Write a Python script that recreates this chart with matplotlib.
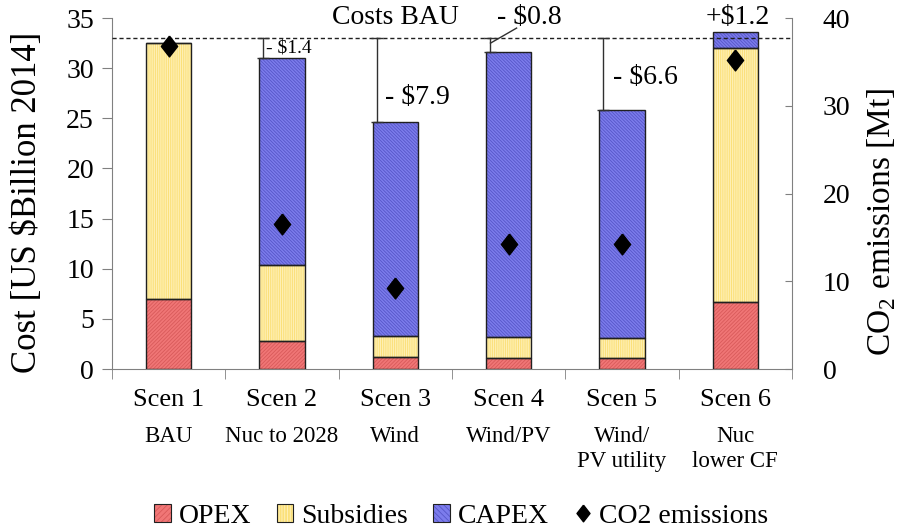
import matplotlib
matplotlib.use("Agg")
import matplotlib.pyplot as plt
from matplotlib.patches import Patch
from matplotlib.lines import Line2D
import numpy as np

plt.rcParams['font.family'] = ['Liberation Serif', 'DejaVu Serif']
plt.rcParams['hatch.linewidth'] = 0.6
plt.rcParams['mathtext.fontset'] = 'custom'
plt.rcParams['mathtext.rm'] = 'Liberation Serif'

scen = ['Scen 1', 'Scen 2', 'Scen 3', 'Scen 4', 'Scen 5', 'Scen 6']
sub_labels = ['BAU', 'Nuc to 2028', 'Wind', 'Wind/PV', 'Wind/\nPV utility', 'Nuc\nlower CF']
opex = [7.0, 2.8, 1.2, 1.1, 1.1, 6.65]
subsidies = [25.5, 7.6, 2.1, 2.1, 2.0, 25.35]
capex = [0.0, 20.6, 21.35, 28.4, 22.7, 1.6]
co2 = [36.8, 16.5, 9.2, 14.2, 14.2, 35.2]
bau_cost = 33.0
diff_labels = ['', '- $1.4', '- $7.9', '- $0.8', '- $6.6', '+$1.2']

c_opex, h_opex = '#f07676', '#d85a5a'
c_sub, h_sub = '#fbe07a', '#fff3c0'
c_cap, h_cap = '#7c7cec', '#5656c8'

fig = plt.figure(figsize=(9.01, 5.31), dpi=100)
ax = fig.add_axes([0.1243, 0.305, 0.7547, 0.661])
ax2 = ax.twinx()

x = np.arange(len(scen))
w = 0.4
bottoms = np.zeros(len(scen))
for vals, fc, hc, hat in [(opex, c_opex, h_opex, '/' * 9),
                          (subsidies, c_sub, h_sub, '|' * 9),
                          (capex, c_cap, h_cap, '\\' * 10)]:
    vals = np.array(vals)
    ax.bar(x, vals, w, bottom=bottoms, color=fc, edgecolor=hc, hatch=hat, linewidth=0, zorder=2)
    ax.bar(x, vals, w, bottom=bottoms, fill=False, edgecolor='#202020', linewidth=1.0, zorder=3)
    bottoms += vals

totals = bottoms
ax.axhline(bau_cost, color='#202020', ls=(0, (3, 2)), lw=1.0, zorder=4)

# cost difference bars
for i in [1, 2, 3, 4]:
    xl = x[i] - w / 2 + 0.035
    ax.plot([xl, xl], [totals[i], bau_cost], color='#303030', lw=1.0, zorder=4)
    ax.plot([xl, xl], [totals[i], bau_cost], ls='none', marker='_', ms=8, mew=1.0,
            color='#303030', zorder=4)

ax.text(2.0, 35.1, 'Costs BAU', ha='center', va='center', fontsize=20)
ax.text(0.86, 32.0, diff_labels[1], ha='left', va='center', fontsize=14)
ax.text(1.91, 27.1, diff_labels[2], ha='left', va='center', fontsize=20)
ax.text(2.90, 35.1, diff_labels[3], ha='left', va='center', fontsize=20, clip_on=False)
ax.plot([2.84, 3.07], [32.5, 34.0], color='#303030', lw=1.0, zorder=4)
ax.text(3.92, 29.1, diff_labels[4], ha='left', va='center', fontsize=20)
ax.text(5.02, 35.1, diff_labels[5], ha='center', va='center', fontsize=20, clip_on=False)

ax.set_xlim(-0.5, 5.5)
ax.set_ylim(0, 35)
ax.set_yticks(np.arange(0, 36, 5))
ax.set_xticks([])
ax.set_xticks(np.arange(-0.5, 5.6, 1), minor=True)
ax.tick_params(axis='x', which='minor', length=7, color='#808080', direction='out')
ax.tick_params(axis='y', length=7, color='#808080', direction='out', labelsize=20, pad=6)
ax.set_ylabel('Cost [US $Billion 2014]', fontsize=25)
ax.yaxis.set_label_coords(-0.1, 0.476)

ax2.set_ylim(0, 40)
ax2.set_yticks(np.arange(0, 41, 10))
ax2.tick_params(axis='y', length=5, color='#808080', direction='in', labelsize=20, pad=22)
ax2.set_ylabel('CO$_2$ emissions [Mt]', fontsize=24)
ax2.yaxis.set_label_coords(1.108, 0.42)

for a in (ax, ax2):
    a.spines['top'].set_visible(False)
    for s in ['left', 'right', 'bottom']:
        a.spines[s].set_color('#808080')
ax.spines['right'].set_visible(False)
ax2.spines['left'].set_visible(False)
ax2.spines['bottom'].set_visible(False)

diamond = [(0, 1), (0.78, 0), (0, -1), (-0.78, 0), (0, 1)]
ax2.plot(x, co2, ls='none', marker=diamond, ms=15, color='black', zorder=5)

tr = ax.get_xaxis_transform()
for i in range(len(scen)):
    ax.text(x[i], -0.088, scen[i], ha='center', va='center', fontsize=19, transform=tr)
    ax.text(x[i], -0.163, sub_labels[i], ha='center', va='top', fontsize=16.5,
            transform=tr, linespacing=1.25)

handles = [
    (Patch(facecolor=c_opex, edgecolor=h_opex, hatch='/' * 6, lw=0), Patch(fill=False, edgecolor='#202020', lw=0.8)),
    (Patch(facecolor=c_sub, edgecolor=h_sub, hatch='|' * 6, lw=0), Patch(fill=False, edgecolor='#202020', lw=0.8)),
    (Patch(facecolor=c_cap, edgecolor=h_cap, hatch='\\' * 6, lw=0), Patch(fill=False, edgecolor='#202020', lw=0.8)),
    Line2D([], [], ls='none', marker=diamond, ms=12, color='black'),
]
fig.legend(handles, ['OPEX', 'Subsidies', 'CAPEX', 'CO2 emissions'], loc='center',
           bbox_to_anchor=(0.512, 0.028), ncol=4, frameon=False, fontsize=20,
           handlelength=0.6, handleheight=0.6, handletextpad=0.3, columnspacing=0.9)

fig.savefig('out.png', dpi=100)
